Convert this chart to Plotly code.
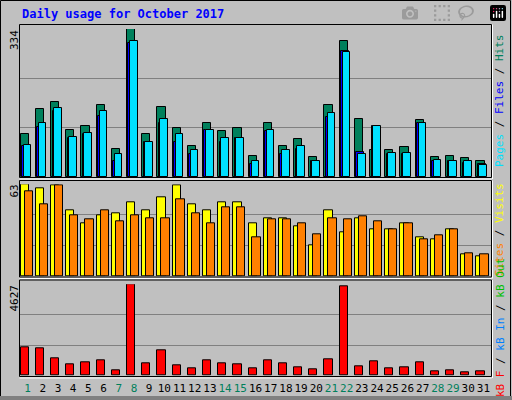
import plotly.graph_objects as go

days = list(range(1, 32))
weekend = [1, 7, 8, 14, 15, 21, 22, 28, 29]
hits = [98,153,169,105,116,162,64,334,96,159,110,71,121,103,110,48,121,71,85,46,162,307,132,62,60,67,128,46,48,42,35]
files = [71,112,149,87,98,137,35,302,78,121,78,53,105,80,87,30,103,51,64,37,135,284,57,114,53,51,121,35,35,32,30]
pages = [73,121,155,91,100,148,53,307,78,132,96,60,105,87,87,37,105,60,69,35,144,282,53,114,55,55,123,39,37,35,28]
visits = [63,60,62,45,36,42,43,51,45,54,62,49,45,51,51,36,40,40,34,21,45,30,40,32,32,36,27,25,32,15,14]
sites = [58,49,62,42,39,45,38,42,40,40,53,43,36,47,47,27,39,39,36,29,40,39,41,38,32,36,25,28,32,16,15]
kbytes = [1436,1385,878,574,676,777,270,4627,625,1284,524,372,777,625,574,372,777,625,422,321,828,4526,473,726,372,422,676,220,270,169,220]

fig = go.Figure()
ln = dict(color="black", width=1)
def bar(y, color, off, w, ax):
    fig.add_trace(go.Bar(x=days, y=y, marker=dict(color=color, line=ln), offset=off, width=w,
                         xaxis="x", yaxis=ax, showlegend=False))

bar(hits, "#00805c", -0.46, 0.54, "y")
bar(files, "#0000ff", -0.36, 0.5, "y")
bar(pages, "#00e0ff", -0.26, 0.5, "y")
bar(visits, "#ffff00", -0.46, 0.54, "y2")
bar(sites, "#ff8000", -0.2, 0.54, "y2")
bar(kbytes, "#ff0000", -0.46, 0.54, "y3")

H, W = 400, 512
def py(p): return 1 - p / H
xd = [20 / W, 491 / W]
ticktext = [f'<span style="color:{"#00805c" if d in weekend else "black"}">{d}</span>' for d in days]
grid = dict(showgrid=True, gridcolor="#808080", gridwidth=1, showticklabels=False, zeroline=False,
            showline=False, fixedrange=True, automargin=False)
fig.update_layout(
    width=W, height=H, margin=dict(l=0, r=0, t=0, b=0, autoexpand=False),
    paper_bgcolor="#c0c0c0", plot_bgcolor="#c0c0c0", barmode="overlay", bargap=0,
    font=dict(family="DejaVu Sans Mono", size=11, color="black"),
    xaxis=dict(domain=xd, range=[0.5, 31.5], tickvals=days, ticktext=ticktext, showgrid=False,
               anchor="y3", ticks="", tickangle=0, automargin=False, ticklabelstandoff=4,
               tickfont=dict(size=11, family="DejaVu Sans Mono"), fixedrange=True),
    yaxis=dict(domain=[py(177), py(29)], range=[0, 334], tickvals=[111.3, 222.7], **grid),
    yaxis2=dict(domain=[py(276.3), py(184.3)], range=[0, 63], tickvals=[21, 42], **grid),
    yaxis3=dict(domain=[py(375.7), py(284.3)], range=[0, 4627], tickvals=[1542, 3085], **grid),
)
shapes = []
def frame(y0, y1):
    shapes.append(dict(type="rect", xref="paper", yref="paper", x0=19.5 / W, x1=491.5 / W,
                       y0=py(y1), y1=py(y0), line=dict(color="black", width=1)))
    shapes.append(dict(type="line", xref="paper", yref="paper", x0=19.5 / W, x1=491.5 / W,
                       y0=py(y1 + 1.5), y1=py(y1 + 1.5), line=dict(color="white", width=1)))
    shapes.append(dict(type="line", xref="paper", yref="paper", x0=492.5 / W, x1=492.5 / W,
                       y0=py(y1 + 1.5), y1=py(y0), line=dict(color="white", width=1)))
frame(24.5, 177.5)
frame(180.5, 277)
frame(280, 376.5)
shapes.append(dict(type="rect", xref="paper", yref="paper", x0=0.5 / W, x1=510.5 / W, y0=py(398.5), y1=py(0.5),
                   line=dict(color="black", width=1)))
shapes.append(dict(type="rect", xref="paper", yref="paper", x0=0, x1=1, y0=0, y1=py(396),
                   fillcolor="#808080", line=dict(width=0)))
fig.update_layout(shapes=shapes)

ann = [
    dict(x=20 / W, y=py(14), text="<b>Daily usage for October 2017</b>", xanchor="left",
         font=dict(color="#0000ff", size=12, family="DejaVu Sans Mono")),
    dict(x=14 / W, y=py(28), text="334", textangle=-90, yanchor="top"),
    dict(x=14 / W, y=py(183), text="63", textangle=-90, yanchor="top"),
    dict(x=14 / W, y=py(283), text="4627", textangle=-90, yanchor="top"),
    dict(x=500 / W, y=py(101), textangle=-90,
         text='<span style="color:#00e0ff">Pages</span> / <span style="color:#0000ff">Files</span> / <span style="color:#00805c">Hits</span>'),
    dict(x=500 / W, y=py(230), textangle=-90,
         text='<span style="color:#ff8000">Sites</span> / <span style="color:#ffff00">Visits</span>'),
    dict(x=500 / W, y=py(328), textangle=-90,
         text='<span style="color:#ff0000">kB F</span> / <span style="color:#0080ff">kB In</span> / <span style="color:#00c000">kB Out</span>'),
]
for a in ann:
    a.setdefault("xanchor", "center")
    a.setdefault("yanchor", "middle")
    a.update(xref="paper", yref="paper", showarrow=False)
fig.update_layout(annotations=ann)
fig.write_html("out.html", post_script="document.body.style.margin='0';document.body.style.overflow='hidden';")
